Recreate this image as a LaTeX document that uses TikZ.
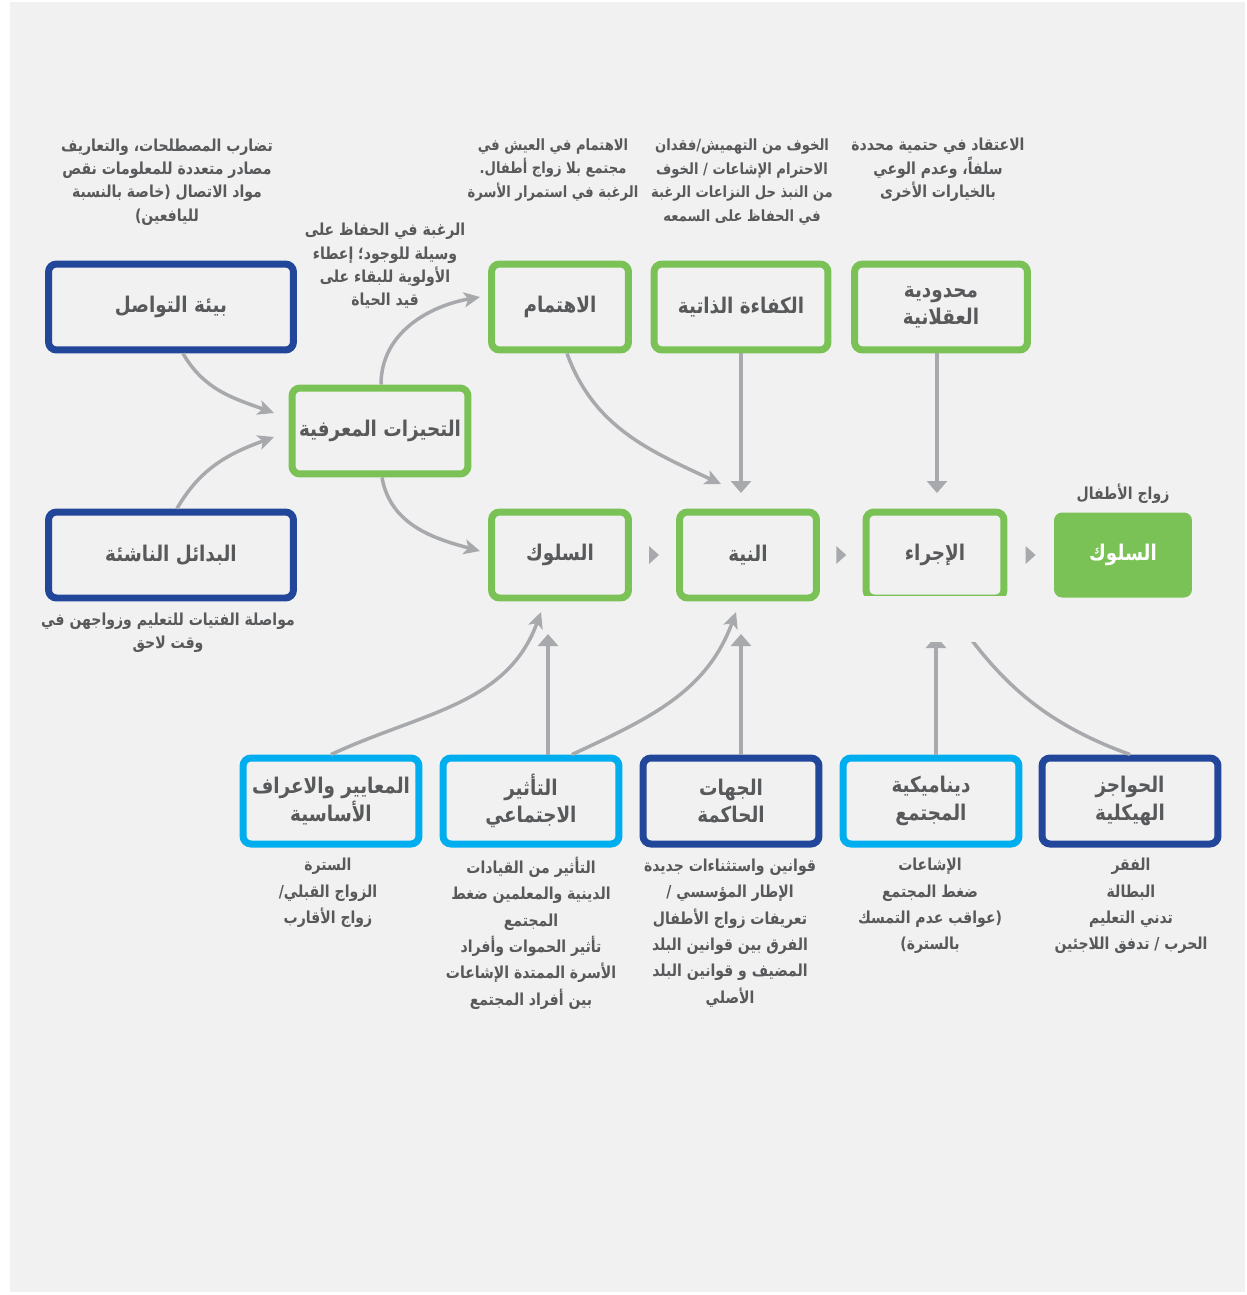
\documentclass[tikz,border=0pt]{standalone}
\usepackage{fontspec}
\usetikzlibrary{arrows.meta,calc}
\TeXXeTstate=1
\newfontfamily\arabicfont[Script=Arabic,FakeStretch=0.85]{DejaVu Sans}
\definecolor{boxgreen}{HTML}{7AC255}
\definecolor{boxnavy}{HTML}{21469A}
\definecolor{boxcyan}{HTML}{00AEEF}
\definecolor{arrowgray}{HTML}{A7A9AC}
\definecolor{txtgray}{HTML}{58595B}
\definecolor{bggray}{HTML}{F1F1F1}
\newcommand{\ar}[1]{\beginR #1\endR}

\begin{document}
\begin{tikzpicture}[x=0.02cm,y=0.02cm,
  every node/.style={text=txtgray},
  box/.style={draw,line width=0.14cm,rounded corners=0.16cm,fill=bggray,align=center,
    inner sep=2pt,minimum height=1.72cm,minimum width=3.52cm,
    font=\arabicfont\bfseries\fontsize{12.3}{15.5}\selectfont},
  greenbox/.style={box,draw=boxgreen},
  navybox/.style={box,draw=boxnavy},
  cyanbox/.style={box,draw=boxcyan},
  slim/.style={minimum width=2.74cm},
  note/.style={align=center,inner sep=0pt,font=\arabicfont\bfseries\fontsize{9.4}{13.3}\selectfont},
  tight/.style={font=\arabicfont\bfseries\fontsize{8.8}{13.3}\selectfont},
  list/.style={note,font=\arabicfont\bfseries\fontsize{9.4}{15}\selectfont},
  link/.style={draw=arrowgray,line width=0.07cm,-{Stealth[length=0.32cm,width=0.3cm,inset=0.08cm]}},
  feed/.style={draw=arrowgray,line width=0.07cm,-{Triangle[length=0.24cm,width=0.4cm]}},
  step tip/.style={fill=arrowgray}]

\useasboundingbox (0,0) rectangle (1247,-1295);
\fill[white] (0,0) rectangle (1247,-1295);
\fill[bggray] (10,-2) rectangle (1245,-1292);

% left column and cognitive biases
\node[navybox,minimum width=4.9cm] (env) at (171,-307) {\ar{بيئة التواصل}};
\node[navybox,minimum width=4.9cm] (alt) at (171,-555) {\ar{البدائل الناشئة}};
\node[greenbox] (bias) at (380,-431) {\ar{التحيزات المعرفية}};

% top row
\node[greenbox,slim] (inter) at (560,-307) {\ar{الاهتمام}};
\node[greenbox,minimum width=3.48cm] (eff) at (741,-307) {\ar{الكفاءة الذاتية}};
\node[greenbox,minimum width=3.46cm] (rat) at (941,-307) {\ar{محدودية}\\\ar{العقلانية}};

% middle row
\node[greenbox,slim] (beh) at (560,-555) {\ar{السلوك}};
\node[greenbox,slim] (intent) at (748,-555) {\ar{النية}};
\begin{scope}
  \clip (840,-480) rectangle (1030,-595);
  \node[greenbox,minimum width=2.76cm] (act) at (935,-555) {\ar{الإجراء}};
\end{scope}
\node[fill=boxgreen,rounded corners=0.16cm,minimum width=2.76cm,minimum height=1.7cm,text=white,
  font=\arabicfont\bfseries\fontsize{12.3}{15.5}\selectfont] (out) at (1123,-555) {\ar{السلوك}};

% bottom row
\node[cyanbox] (norm) at (331,-801) {\ar{المعايير والاعراف}\\\ar{الأساسية}};
\node[cyanbox] (soc) at (531,-801) {\ar{التأثير}\\\ar{الاجتماعي}};
\node[navybox] (gov) at (731,-801) {\ar{الجهات}\\\ar{الحاكمة}};
\node[cyanbox] (dyn) at (931,-801) {\ar{ديناميكية}\\\ar{المجتمع}};
\node[navybox] (bar) at (1130,-801) {\ar{الحواجز}\\\ar{الهيكلية}};

% notes
\node[note] (noteEnv) at (167,-182) {\ar{تضارب المصطلحات، والتعاريف}\\\ar{مصادر متعددة للمعلومات نقص}\\\ar{مواد الاتصال (خاصة بالنسبة}\\\ar{لليافعين)}};
\node[note] (noteCog) at (385,-266) {\ar{الرغبة في الحفاظ على}\\\ar{وسيلة للوجود؛ إعطاء}\\\ar{الأولوية للبقاء على}\\\ar{قيد الحياة}};
\node[note,tight] (noteInt) at (553,-170) {\ar{الاهتمام في العيش في}\\\ar{مجتمع بلا زواج أطفال.}\\\ar{الرغبة في استمرار الأسرة}};
\node[note,tight] (noteEff) at (742,-182) {\ar{الخوف من التهميش/فقدان}\\\ar{الاحترام الإشاعات / الخوف}\\\ar{من النبذ حل النزاعات الرغبة}\\\ar{في الحفاظ على السمعه}};
\node[note] (noteRat) at (938,-170) {\ar{الاعتقاد في حتمية محددة}\\\ar{سلفاً، وعدم الوعي}\\\ar{بالخيارات الأخرى}};
\node[note] (noteMarr) at (1123,-494) {\ar{زواج الأطفال}};
\node[note] (noteAlt) at (168,-633) {\ar{مواصلة الفتيات للتعليم وزواجهن في}\\\ar{وقت لاحق}};
\node[list] (noteNorm) at (328,-893) {\ar{السترة}\\\ar{الزواج القبلي/}\\\ar{زواج الأقارب}};
\node[list] (noteSoc) at (531,-933) {\ar{التأثير من القيادات}\\\ar{الدينية والمعلمين ضغط}\\\ar{المجتمع}\\\ar{تأثير الحموات وأفراد}\\\ar{الأسرة الممتدة الإشاعات}\\\ar{بين أفراد المجتمع}};
\node[list] (noteGov) at (730,-933) {\ar{قوانين واستثناءات جديدة}\\\ar{الإطار المؤسسي /}\\\ar{تعريفات زواج الأطفال}\\\ar{الفرق بين قوانين البلد}\\\ar{المضيف و قوانين البلد}\\\ar{الأصلي}};
\node[list] (noteDyn) at (930,-906) {\ar{الإشاعات}\\\ar{ضغط المجتمع}\\\ar{(عواقب عدم التمسك}\\\ar{بالسترة)}};
\node[list] (noteBar) at (1131,-906) {\ar{الفقر}\\\ar{البطالة}\\\ar{تدني التعليم}\\\ar{الحرب / تدفق اللاجئين}};

% connectors
\path ($(env.south)+(12,0)$) edge[link,out=-60,in=160] (274,-413)
      ($(alt.north)+(6,0)$) edge[link,out=60,in=200] (274,-437)
      ($(bias.north)+(1,0)$) edge[link,out=90,in=190] (480,-297)
      ($(bias.south)+(2,0)$) edge[link,out=-80,in=165] (480,-551)
      ($(inter.south)+(7,0)$) edge[link,out=-70,in=155] (721,-484)
      (norm.north) edge[link,out=25,in=-110] (541,-612)
      ($(soc.north)+(41,0)$) edge[link,out=25,in=-110] (736,-612);
\path (eff.south) edge[feed] (741,-493)
      ($(rat.south)+(-4,0)$) edge[feed] (937,-493)
      ($(soc.north)+(17,0)$) edge[feed] (548,-634)
      ($(gov.north)+(10,0)$) edge[feed] (741,-634);
\begin{scope}
  \clip (850,-642) rectangle (1200,-760);
  \path ($(dyn.north)+(5,0)$) edge[feed] (936,-636)
        (bar.north) edge[link,out=160,in=-55] (950,-610);
\end{scope}

% small step marks between the middle boxes
\foreach \a/\b in {beh/intent,intent/act,act/out}
  \fill[step tip] ($(\a.east)!.5!(\b.west)$) ++(-5,9) -- ++(10,-9) -- ++(-10,-9) -- cycle;
\end{tikzpicture}
\end{document}
